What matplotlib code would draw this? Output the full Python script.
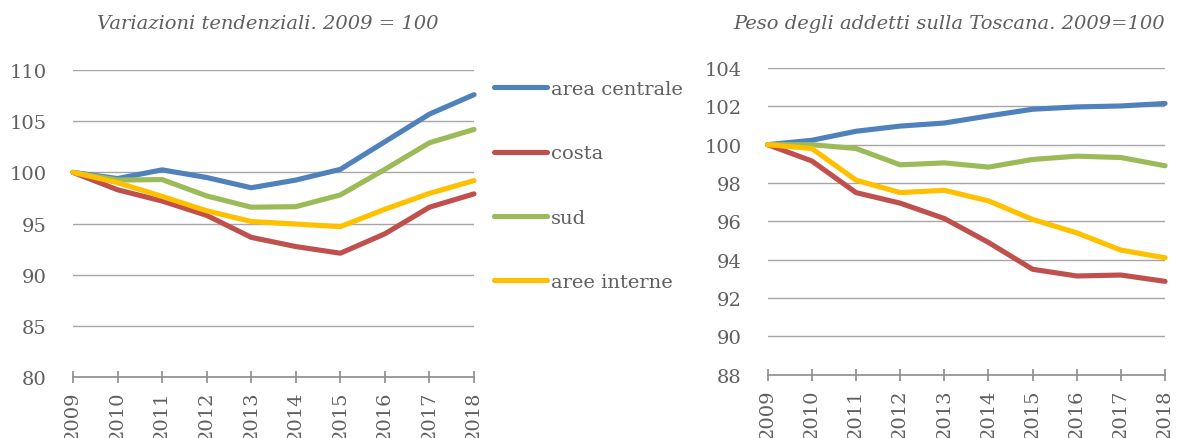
import matplotlib.pyplot as plt
from matplotlib.ticker import MultipleLocator

plt.rcParams['font.family'] = ['DejaVu Serif']

anni = list(range(2009, 2019))
serie = ['area centrale', 'costa', 'sud', 'aree interne']
colori = ['#4F81BD', '#C0504D', '#9BBB59', '#FFC000']

# variazioni tendenziali, 2009 = 100
var_centrale = [100, 99.4, 100.25, 99.5, 98.5, 99.25, 100.3, 103.0, 105.7, 107.6]
var_costa = [100, 98.3, 97.2, 95.8, 93.65, 92.75, 92.1, 94.0, 96.6, 97.9]
var_sud = [100, 99.25, 99.3, 97.7, 96.6, 96.65, 97.8, 100.3, 102.9, 104.2]
var_interne = [100, 99.0, 97.65, 96.25, 95.2, 94.95, 94.7, 96.4, 97.95, 99.2]

# peso degli addetti sulla Toscana, 2009 = 100
peso_centrale = [100, 100.23, 100.7, 100.97, 101.13, 101.5, 101.85, 101.97, 102.02, 102.15]
peso_costa = [100, 99.15, 97.5, 96.95, 96.15, 94.9, 93.5, 93.15, 93.2, 92.87]
peso_sud = [100, 100.0, 99.8, 98.95, 99.05, 98.83, 99.23, 99.4, 99.33, 98.9]
peso_interne = [100, 99.8, 98.15, 97.5, 97.62, 97.07, 96.1, 95.4, 94.5, 94.1]

grigio_testo = '#5f5f5f'
grigio_griglia = '#a6a6a6'
grigio_asse = '#8c8c8c'

fig = plt.figure(figsize=(11.78, 4.39), dpi=100)
ax1 = fig.add_axes([0.062, 0.139, 0.3404, 0.699])
ax2 = fig.add_axes([0.6517, 0.1442, 0.3373, 0.6986])


def stile(ax, ylim, passo):
    ax.set_xlim(2009, 2018)
    ax.set_ylim(*ylim)
    ax.yaxis.set_major_locator(MultipleLocator(passo))
    ax.set_xticks(anni)
    ax.set_xticklabels([str(a) for a in anni], rotation=90)
    for s in ['top', 'right', 'left']:
        ax.spines[s].set_visible(False)
    ax.spines['bottom'].set_color(grigio_asse)
    ax.spines['bottom'].set_linewidth(1.2)
    ax.grid(axis='y', color=grigio_griglia, linewidth=1.0)
    ax.set_axisbelow(True)
    ax.tick_params(axis='y', length=0, pad=19, labelsize=14, labelcolor=grigio_testo)
    ax.tick_params(axis='x', direction='inout', length=8.6, width=1.2,
                   color=grigio_asse, pad=5.5, labelsize=14, labelcolor=grigio_testo)


for ax, dati in [(ax1, [var_centrale, var_costa, var_sud, var_interne]),
                 (ax2, [peso_centrale, peso_costa, peso_sud, peso_interne])]:
    for nome, valori, c in zip(serie, dati, colori):
        ax.plot(anni, valori, color=c, linewidth=3.7, label=nome,
                solid_capstyle='round', solid_joinstyle='round', clip_on=False)

stile(ax1, (80, 110), 5)
stile(ax2, (88, 104), 2)

ax1.legend(loc='upper left', bbox_to_anchor=(1.03, 0.993), frameon=False,
           fontsize=14, labelcolor=grigio_testo, handlelength=2.75,
           handletextpad=0.2, labelspacing=2.38, borderaxespad=0)

fig.text(268 / 1178, 1 - 24 / 439, 'Variazioni tendenziali. 2009 = 100',
         ha='center', va='center', style='italic', fontsize=14, color=grigio_testo)
fig.text(949 / 1178, 1 - 24 / 439, 'Peso degli addetti sulla Toscana. 2009=100',
         ha='center', va='center', style='italic', fontsize=14, color=grigio_testo)

fig.savefig('out.png', dpi=100)
